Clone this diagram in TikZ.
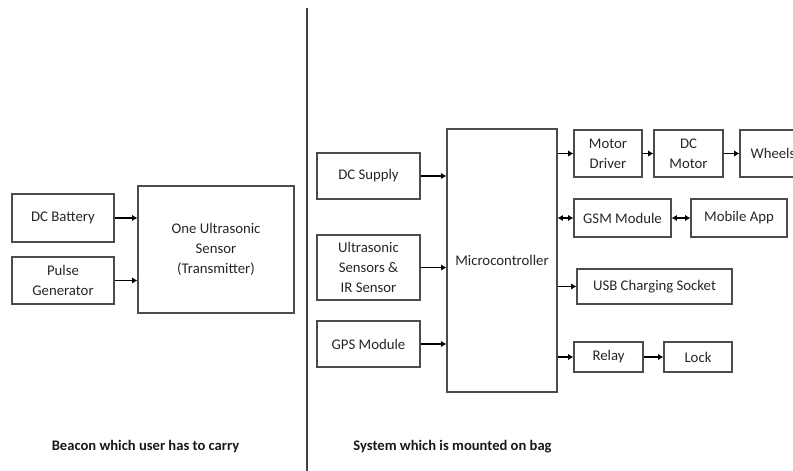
\documentclass[tikz,border=0pt]{standalone}
\usepackage{fontspec}
\setmainfont{Carlito}
\usetikzlibrary{arrows.meta}
\tikzset{
	blk/.style = {draw=black!70, line width=0.6pt, align=center, inner sep=1pt,
		text=black!85, font=\fontsize{8.4}{11.3}\selectfont},
	arr/.style = {line width=1pt, -{Latex[length=3pt,width=3.5pt]}},
	darr/.style = {line width=1pt, {Latex[length=3pt,width=3.5pt]}-{Latex[length=3pt,width=3.5pt]}},
	captxt/.style = {font=\fontsize{8.3}{10}\selectfont\bfseries, text=black!90}
}
\begin{document}
\begin{tikzpicture}
	\useasboundingbox (0,0) rectangle (15.86,9.42);
	% beacon
	\node[blk, minimum width=2.04cm, minimum height=0.96cm] (bat) at (1.26,5.06) {DC Battery};
	\node[blk, minimum width=2.04cm, minimum height=0.94cm] (pulse) at (1.26,3.81) {Pulse\\Generator};
	\node[blk, minimum width=3.12cm, minimum height=2.54cm] (sensor) at (4.32,4.43) {One Ultrasonic\\Sensor\\(Transmitter)};
	\draw[arr] (bat.east) -- (bat -| sensor.west);
	\draw[arr] (pulse.east) -- (pulse -| sensor.west);
	% divider
	\coordinate (top) at (6.14,9.26);
	\coordinate (bot) at (6.14,0);
	\draw[black!75, line width=1.1pt] (top) -- (bot);
	% system on bag
	\node[blk, minimum width=2.06cm, minimum height=0.92cm] (supply) at (7.37,5.90) {DC Supply};
	\node[blk, minimum width=2.06cm, minimum height=1.30cm] (usonic) at (7.37,4.07) {Ultrasonic\\Sensors \&\\IR Sensor};
	\node[blk, minimum width=2.06cm, minimum height=0.92cm] (gps) at (7.37,2.54) {GPS Module};
	\node[blk, minimum width=2.20cm, minimum height=5.26cm] (mcu) at (10.04,4.21) {Microcontroller};
	\node[blk, minimum width=1.36cm, minimum height=0.94cm] (mdrv) at (12.16,6.35) {Motor\\Driver};
	\node[blk, minimum width=1.38cm, minimum height=0.94cm] (dcm) at (13.77,6.35) {DC\\Motor};
	\node[blk, minimum width=1.32cm, minimum height=0.94cm] (wheels) at (15.46,6.35) {Wheels};
	\node[blk, minimum width=1.94cm, minimum height=0.76cm] (gsm) at (12.45,5.06) {GSM Module};
	\node[blk, minimum width=1.92cm, minimum height=0.76cm] (app) at (14.78,5.06) {Mobile App};
	\node[blk, minimum width=3.10cm, minimum height=0.70cm] (usb) at (13.09,3.69) {USB Charging Socket};
	\node[blk, minimum width=1.38cm, minimum height=0.60cm] (relay) at (12.17,2.28) {Relay};
	\node[blk, minimum width=1.36cm, minimum height=0.60cm] (lock) at (13.96,2.28) {Lock};
	\draw[arr] (supply.east) -- (supply -| mcu.west);
	\draw[arr] (usonic.east) -- (usonic -| mcu.west);
	\draw[arr] (gps.east) -- (gps -| mcu.west);
	\draw[arr] (mdrv -| mcu.east) -- (mdrv.west);
	\draw[arr] (mdrv.east) -- (dcm.west);
	\draw[arr] (dcm.east) -- (wheels.west);
	\draw[darr] (gsm -| mcu.east) -- (gsm.west);
	\draw[darr] (gsm.east) -- (app.west);
	\draw[arr] (usb -| mcu.east) -- (usb.west);
	\draw[arr] (relay -| mcu.east) -- (relay.west);
	\draw[arr] (relay.east) -- (lock.west);
	% captions
	\node[captxt] (capl) at (2.91,0.48) {Beacon which user has to carry};
	\node[captxt] (capr) at (9.05,0.48) {System which is mounted on bag};
\end{tikzpicture}
\end{document}
